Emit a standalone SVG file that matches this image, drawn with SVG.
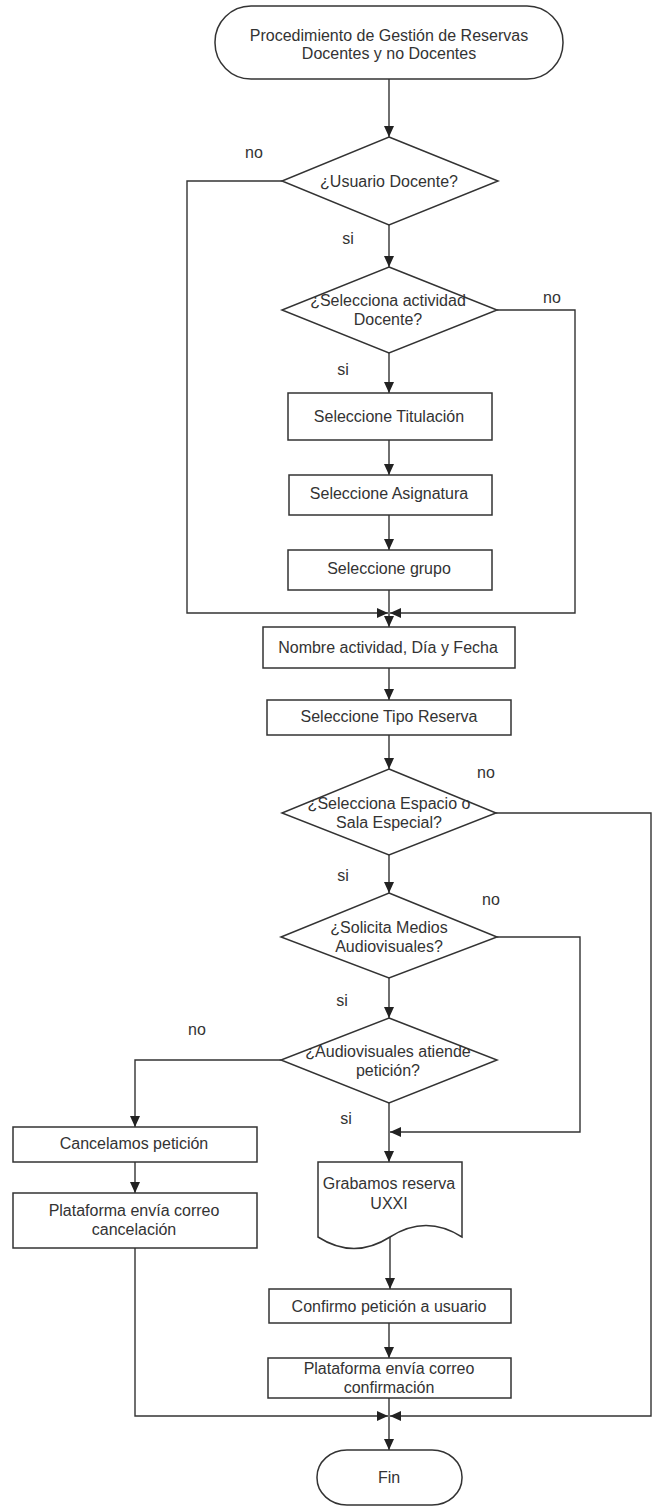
<svg xmlns="http://www.w3.org/2000/svg" width="653" height="1507" viewBox="0 0 653 1507">
<style>
.s{fill:#fff;stroke:#333;stroke-width:1.5}
.c{fill:none;stroke:#333;stroke-width:1.4}
.t{font-family:"Liberation Sans",Arial,sans-serif;font-size:16px;fill:#333;text-anchor:middle}
</style>
<defs>
<marker id="a" markerUnits="userSpaceOnUse" markerWidth="11" markerHeight="10" refX="11" refY="5" orient="auto">
<path d="M0,0 L11,5 L0,10 z" fill="#222"/>
</marker>
</defs>
<rect width="653" height="1507" fill="#fff"/>
<g id="connectors">
<path class="c" d="M389,79 V137" marker-end="url(#a)"/>
<path class="c" d="M389,225 V267" marker-end="url(#a)"/>
<path class="c" d="M389,353 V393" marker-end="url(#a)"/>
<path class="c" d="M389,440 V475" marker-end="url(#a)"/>
<path class="c" d="M389,515 V550" marker-end="url(#a)"/>
<path class="c" d="M389,590 V627" marker-end="url(#a)"/>
<path class="c" d="M282,181 H187 V613 H388" marker-end="url(#a)"/>
<path class="c" d="M497,310 H575 V613 H390" marker-end="url(#a)"/>
<path class="c" d="M389,668 V700" marker-end="url(#a)"/>
<path class="c" d="M389,735 V769" marker-end="url(#a)"/>
<path class="c" d="M389,855 V893" marker-end="url(#a)"/>
<path class="c" d="M389,978 V1018" marker-end="url(#a)"/>
<path class="c" d="M497,937 H580 V1132 H390" marker-end="url(#a)"/>
<path class="c" d="M389,1103 V1162" marker-end="url(#a)"/>
<path class="c" d="M281,1060 H135 V1127" marker-end="url(#a)"/>
<path class="c" d="M135,1162 V1193" marker-end="url(#a)"/>
<path class="c" d="M390,1237 V1289" marker-end="url(#a)"/>
<path class="c" d="M389,1323 V1358" marker-end="url(#a)"/>
<path class="c" d="M389,1398 V1450" marker-end="url(#a)"/>
<path class="c" d="M135,1248 V1416 H388" marker-end="url(#a)"/>
<path class="c" d="M496,813 H651 V1416 H390" marker-end="url(#a)"/>
<text class="t" x="254" y="158">no</text>
<text class="t" x="348" y="244">si</text>
<text class="t" x="552" y="303">no</text>
<text class="t" x="343" y="375">si</text>
<text class="t" x="486" y="778">no</text>
<text class="t" x="343" y="881">si</text>
<text class="t" x="491" y="905">no</text>
<text class="t" x="342" y="1006">si</text>
<text class="t" x="197" y="1035">no</text>
<text class="t" x="346" y="1124">si</text>
</g>
<g id="start">
<rect class="s" x="215" y="6" width="348" height="73" rx="36" ry="36"/>
<text class="t" x="389" y="41">Procedimiento de Gestión de Reservas</text>
<text class="t" x="389" y="59">Docentes y no Docentes</text>
</g>
<g id="d-usuario">
<path class="s" d="M389,137 L498,181 L389,225 L282,181 z"/>
<text class="t" x="389" y="187">¿Usuario Docente?</text>
</g>
<g id="d-actividad">
<path class="s" d="M389,267 L497,310 L389,353 L282,310 z"/>
<text class="t" x="388" y="306">¿Selecciona actividad</text>
<text class="t" x="388" y="325">Docente?</text>
</g>
<g id="titulacion">
<rect class="s" x="288" y="393" width="204" height="47"/>
<text class="t" x="389" y="422">Seleccione Titulación</text>
</g>
<g id="asignatura">
<rect class="s" x="289" y="475" width="203" height="40"/>
<text class="t" x="389" y="499">Seleccione Asignatura</text>
</g>
<g id="grupo">
<rect class="s" x="288" y="550" width="204" height="40"/>
<text class="t" x="389" y="574">Seleccione grupo</text>
</g>
<g id="nombre">
<rect class="s" x="263" y="627" width="252" height="41"/>
<text class="t" x="388" y="653">Nombre actividad, Día y Fecha</text>
</g>
<g id="tipo">
<rect class="s" x="267" y="700" width="244" height="35"/>
<text class="t" x="389" y="722">Seleccione Tipo Reserva</text>
</g>
<g id="d-espacio">
<path class="s" d="M389,769 L496,813 L389,855 L282,813 z"/>
<text class="t" x="389" y="809">¿Selecciona Espacio o</text>
<text class="t" x="389" y="828">Sala Especial?</text>
</g>
<g id="d-medios">
<path class="s" d="M389,893 L497,937 L389,978 L281,937 z"/>
<text class="t" x="389" y="933">¿Solicita Medios</text>
<text class="t" x="389" y="952">Audiovisuales?</text>
</g>
<g id="d-atiende">
<path class="s" d="M389,1018 L497,1060 L389,1103 L281,1060 z"/>
<text class="t" x="388" y="1057">¿Audiovisuales atiende</text>
<text class="t" x="388" y="1076">petición?</text>
</g>
<g id="cancelamos">
<rect class="s" x="13" y="1127" width="244" height="35"/>
<text class="t" x="134" y="1149">Cancelamos petición</text>
</g>
<g id="correo-cancelacion">
<rect class="s" x="13" y="1193" width="244" height="55"/>
<text class="t" x="134" y="1216">Plataforma envía correo</text>
<text class="t" x="134" y="1235">cancelación</text>
</g>
<g id="grabamos">
<path class="s" d="M318,1162 H462 V1237 Q426,1214 390,1237 T318,1237 z"/>
<text class="t" x="389" y="1189">Grabamos reserva</text>
<text class="t" x="389" y="1209">UXXI</text>
</g>
<g id="confirmo">
<rect class="s" x="269" y="1289" width="242" height="34"/>
<text class="t" x="389" y="1312">Confirmo petición a usuario</text>
</g>
<g id="correo-confirmacion">
<rect class="s" x="268" y="1358" width="243" height="40"/>
<text class="t" x="389" y="1374">Plataforma envía correo</text>
<text class="t" x="389" y="1393">confirmación</text>
</g>
<g id="fin">
<rect class="s" x="317" y="1450" width="145" height="55" rx="30" ry="27"/>
<text class="t" x="389" y="1483">Fin</text>
</g>
</svg>
